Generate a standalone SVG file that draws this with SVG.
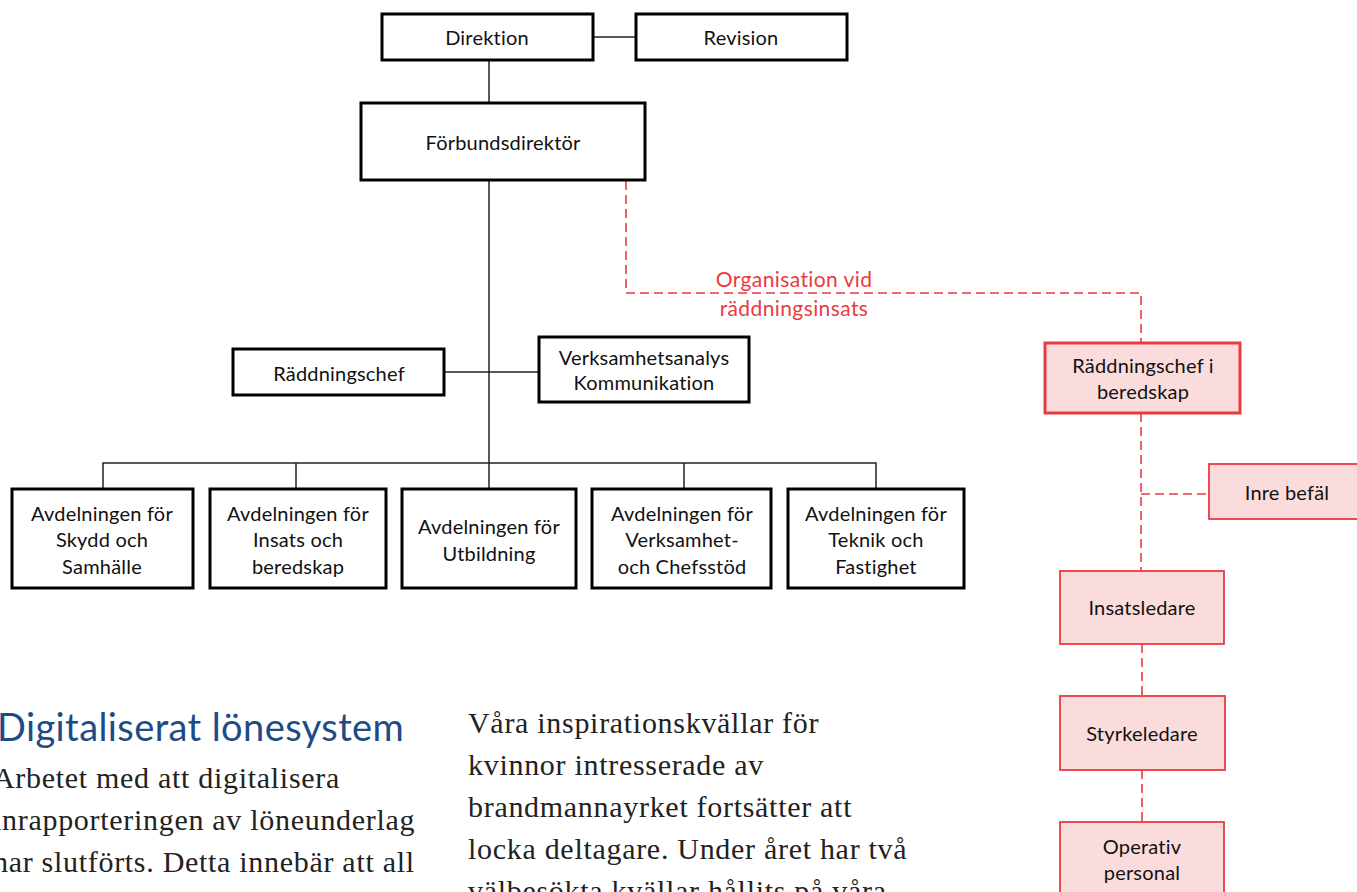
<svg xmlns="http://www.w3.org/2000/svg" width="1357" height="892" viewBox="0 0 1357 892">
<style>
.box{fill:#fff;stroke:#000;stroke-width:3}
.rbox{fill:#fbdcdd;stroke:#ea3a40;stroke-width:1.8}
.rbox2{fill:#fbdcdd;stroke:#ea3a40;stroke-width:3}
.lbl{font-family:Lato,"Open Sans",sans-serif;font-size:20px;letter-spacing:0.2px;fill:#111;text-anchor:middle;font-variant-ligatures:none}
.rl{font-family:Lato,"Open Sans",sans-serif;font-size:21px;letter-spacing:0.4px;fill:#ea3a40;text-anchor:middle;font-variant-ligatures:none}
.con{stroke:#222;stroke-width:1.5;fill:none}
.dash{stroke:#ea3a40;stroke-width:1.6;fill:none;stroke-dasharray:9 5}
.h{font-family:Lato,"Open Sans",sans-serif;font-size:38px;letter-spacing:0.4px;fill:#1e4b86}
.body{font-family:"Liberation Serif",serif;font-size:30px;letter-spacing:0.7px;fill:#222}
</style>
<rect width="1357" height="892" fill="#fff"/>
<g id="connectors">
<line class="con" x1="593" y1="37" x2="636" y2="37"/>
<line class="con" x1="489" y1="60" x2="489" y2="103"/>
<line class="con" x1="489" y1="180" x2="489" y2="489"/>
<line class="con" x1="444" y1="372" x2="539" y2="372"/>
<polyline class="con" points="103,489 103,463 876,463 876,489"/>
<line class="con" x1="296" y1="463" x2="296" y2="489"/>
<line class="con" x1="684" y1="463" x2="684" y2="489"/>
<polyline class="dash" points="626,181 626,293 1141,293 1141,343"/>
<line class="dash" x1="1141" y1="413" x2="1141" y2="571"/>
<line class="dash" x1="1141" y1="494" x2="1209" y2="494"/>
<line class="dash" x1="1142" y1="644" x2="1142" y2="696"/>
<line class="dash" x1="1142" y1="770" x2="1142" y2="822"/>
<text class="rl" x="794" y="287">Organisation vid</text>
<text class="rl" x="794" y="316">räddningsinsats</text>
</g>
<g id="direktion"><rect class="box" x="382" y="14" width="211" height="46"/><text class="lbl" x="487" y="45">Direktion</text></g>
<g id="revision"><rect class="box" x="636" y="14" width="211" height="46"/><text class="lbl" x="741" y="45">Revision</text></g>
<g id="forbundsdirektor"><rect class="box" x="361" y="103" width="284" height="77"/><text class="lbl" x="503" y="150">Förbundsdirektör</text></g>
<g id="raddningschef"><rect class="box" x="233" y="349" width="211" height="46"/><text class="lbl" x="339" y="381">Räddningschef</text></g>
<g id="verksamhetsanalys"><rect class="box" x="539" y="337" width="210" height="65"/><text class="lbl" x="644" y="365">Verksamhetsanalys</text><text class="lbl" x="644" y="390">Kommunikation</text></g>
<g id="avd1"><rect class="box" x="12" y="489" width="181" height="99"/><text class="lbl" x="102" y="521">Avdelningen för</text><text class="lbl" x="102" y="547">Skydd och</text><text class="lbl" x="102" y="574">Samhälle</text></g>
<g id="avd2"><rect class="box" x="210" y="489" width="176" height="99"/><text class="lbl" x="298" y="521">Avdelningen för</text><text class="lbl" x="298" y="547">Insats och</text><text class="lbl" x="298" y="574">beredskap</text></g>
<g id="avd3"><rect class="box" x="402" y="489" width="174" height="99"/><text class="lbl" x="489" y="534">Avdelningen för</text><text class="lbl" x="489" y="561">Utbildning</text></g>
<g id="avd4"><rect class="box" x="592" y="489" width="179" height="99"/><text class="lbl" x="682" y="521">Avdelningen för</text><text class="lbl" x="682" y="547">Verksamhet-</text><text class="lbl" x="682" y="574">och Chefsstöd</text></g>
<g id="avd5"><rect class="box" x="788" y="489" width="176" height="99"/><text class="lbl" x="876" y="521">Avdelningen för</text><text class="lbl" x="876" y="547">Teknik och</text><text class="lbl" x="876" y="574">Fastighet</text></g>
<g id="rcib"><rect class="rbox2" x="1045" y="343" width="195" height="70"/><text class="lbl" x="1143" y="373">Räddningschef i</text><text class="lbl" x="1143" y="399">beredskap</text></g>
<g id="inrebefal"><rect class="rbox" x="1209" y="464" width="160" height="55"/><text class="lbl" x="1287" y="500">Inre befäl</text></g>
<g id="insatsledare"><rect class="rbox" x="1060" y="571" width="164" height="73"/><text class="lbl" x="1142" y="615">Insatsledare</text></g>
<g id="styrkeledare"><rect class="rbox" x="1060" y="696" width="165" height="74"/><text class="lbl" x="1142" y="741">Styrkeledare</text></g>
<g id="operativ"><rect class="rbox" x="1060" y="822" width="164" height="90"/><text class="lbl" x="1142" y="854">Operativ</text><text class="lbl" x="1142" y="880">personal</text></g>
<g id="text">
<text class="h" x="-3" y="741">Digitaliserat lönesystem</text>
<text class="body" x="-7" y="788">Arbetet med att digitalisera</text>
<text class="body" x="-7" y="830">inrapporteringen av löneunderlag</text>
<text class="body" x="-7" y="872">har slutförts. Detta innebär att all</text>
<text class="body" x="468" y="733">Våra inspirationskvällar för</text>
<text class="body" x="468" y="775">kvinnor intresserade av</text>
<text class="body" x="468" y="817">brandmannayrket fortsätter att</text>
<text class="body" x="468" y="859">locka deltagare. Under året har två</text>
<text class="body" x="468" y="901">välbesökta kvällar hållits på våra</text>
</g>
</svg>
